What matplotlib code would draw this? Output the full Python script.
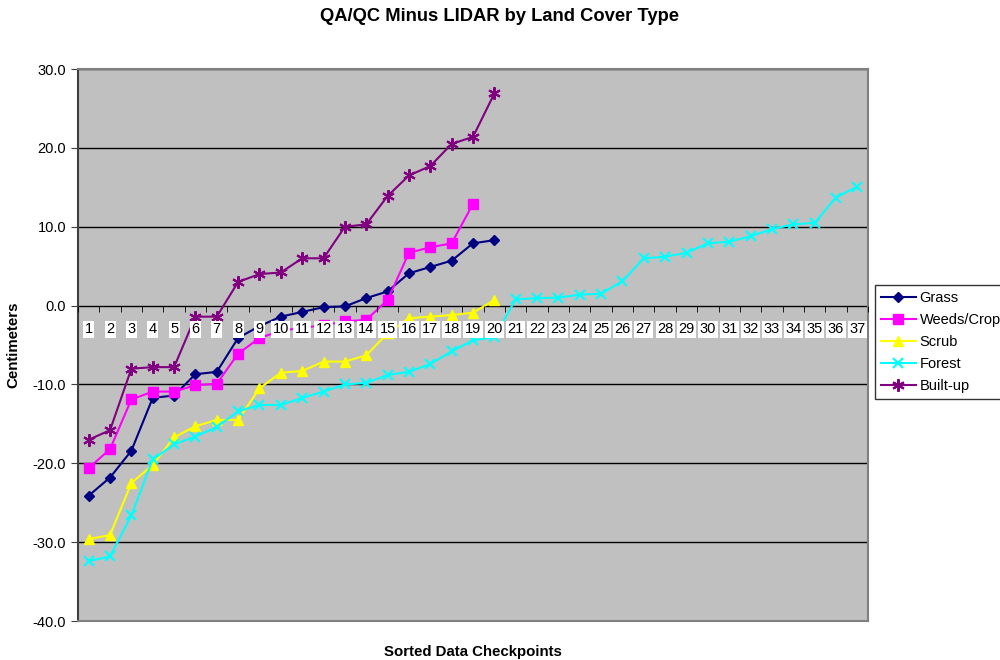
import matplotlib
matplotlib.use('Agg')
import matplotlib.pyplot as plt
import numpy as np

plt.rcParams['font.family'] = ['Liberation Sans', 'DejaVu Sans']

# Data (centimeters)
grass = [-24.1, -21.8, -18.4, -11.7, -11.4, -8.7, -8.4, -4.1, -2.6, -1.4,
         -0.8, -0.2, -0.1, 0.95, 1.8, 4.1, 4.9, 5.7, 7.9, 8.3]
weeds = [-20.6, -18.2, -11.9, -10.9, -10.9, -10.1, -9.9, -6.1, -4.1, -3.2,
         -2.8, -2.5, -2.0, -1.8, 0.7, 6.7, 7.4, 7.9, 12.9]
scrub = [-29.6, -29.1, -22.5, -20.2, -16.7, -15.3, -14.5, -14.5, -10.5, -8.5,
         -8.3, -7.1, -7.1, -6.3, -3.5, -1.6, -1.4, -1.2, -0.9, 0.7]
forest = [-32.4, -31.8, -26.6, -19.5, -17.6, -16.6, -15.4, -13.4, -12.6, -12.6,
          -11.7, -10.9, -10.0, -9.8, -8.8, -8.4, -7.4, -5.8, -4.4, -4.0,
          0.8, 0.95, 1.0, 1.4, 1.5, 3.1, 6.0, 6.2, 6.7, 7.9,
          8.1, 8.8, 9.7, 10.3, 10.5, 13.7, 15.1]
builtup = [-17.0, -15.8, -8.0, -7.8, -7.8, -1.4, -1.4, 3.0, 4.0, 4.2,
           6.0, 6.0, 10.0, 10.3, 13.9, 16.5, 17.7, 20.5, 21.4, 26.9]

checkpoints = list(range(1, 38))
y_ticks = [-40, -30, -20, -10, 0, 10, 20, 30]

series = [
    ('Grass', grass, '#000080', 'D', 5.5),
    ('Weeds/Crop', weeds, '#FF00FF', 's', 7),
    ('Scrub', scrub, '#FFFF00', '^', 7),
    ('Forest', forest, '#00FFFF', 'x', 7),
    ('Built-up', builtup, '#800080', (6, 2, 0), 9),
]

fig = plt.figure(figsize=(10, 6.6), dpi=100)
ax = fig.add_axes([0.078, 0.059, 0.79, 0.8364])
ax.set_facecolor('#C0C0C0')

for name, vals, color, marker, ms in series:
    x = np.arange(1, len(vals) + 1)
    ax.plot(x, vals, color=color, marker=marker, markersize=ms, lw=1.5,
            markeredgewidth=1.5 if marker in ('x', (6, 2, 0)) else 1,
            label=name, zorder=3)

ax.set_xlim(0.5, len(checkpoints) + 0.5)
ax.set_ylim(-40, 30)
ax.set_yticks(y_ticks)
ax.set_yticklabels(['%.1f' % v for v in y_ticks], fontsize=10.5)
ax.yaxis.grid(True, color='black', lw=1)
ax.set_axisbelow(True)
ax.tick_params(axis='y', length=5, color='#404040')
ax.set_xticks([])
for s in ax.spines.values():
    s.set_color('#808080')
    s.set_linewidth(1.5)
ax.spines['left'].set_color('#404040')

# category axis crossing at zero, labels drawn over the lines
sec = ax.secondary_xaxis(40 / 70)
sec.set_zorder(5)
sec.xaxis.set_ticks_position('bottom')
sec.spines['bottom'].set_color('black')
sec.spines['bottom'].set_linewidth(1.2)
sec.spines['top'].set_visible(False)
sec.set_xticks(checkpoints)
sec.set_xticklabels([str(c) for c in checkpoints], fontsize=10.5)
sec.set_xticks(np.arange(0.5, len(checkpoints) + 1, 1.0), minor=True)
sec.tick_params(axis='x', which='both', bottom=True, top=False,
                labelbottom=True, labeltop=False)
sec.tick_params(axis='x', which='major', length=0, pad=12)
sec.tick_params(axis='x', which='minor', length=4, color='black')
for lbl in sec.get_xticklabels():
    lbl.set_bbox(dict(facecolor='white', edgecolor='none', pad=1))

ax.set_ylabel('Centimeters', fontsize=10.8, fontweight='bold', labelpad=9)
ax.set_xlabel('Sorted Data Checkpoints', fontsize=10.8, fontweight='bold',
              labelpad=17)
fig.suptitle('QA/QC Minus LIDAR by Land Cover Type', fontsize=13.2,
             fontweight='bold', y=0.988)

fig.legend(loc='upper left', bbox_to_anchor=(0.875, 0.568), borderaxespad=0,
           frameon=True, fancybox=False, edgecolor='black', fontsize=10.5,
           handlelength=2.4, labelspacing=0.55, borderpad=0.4,
           handletextpad=0.25)

fig.savefig('out.png', dpi=100)
